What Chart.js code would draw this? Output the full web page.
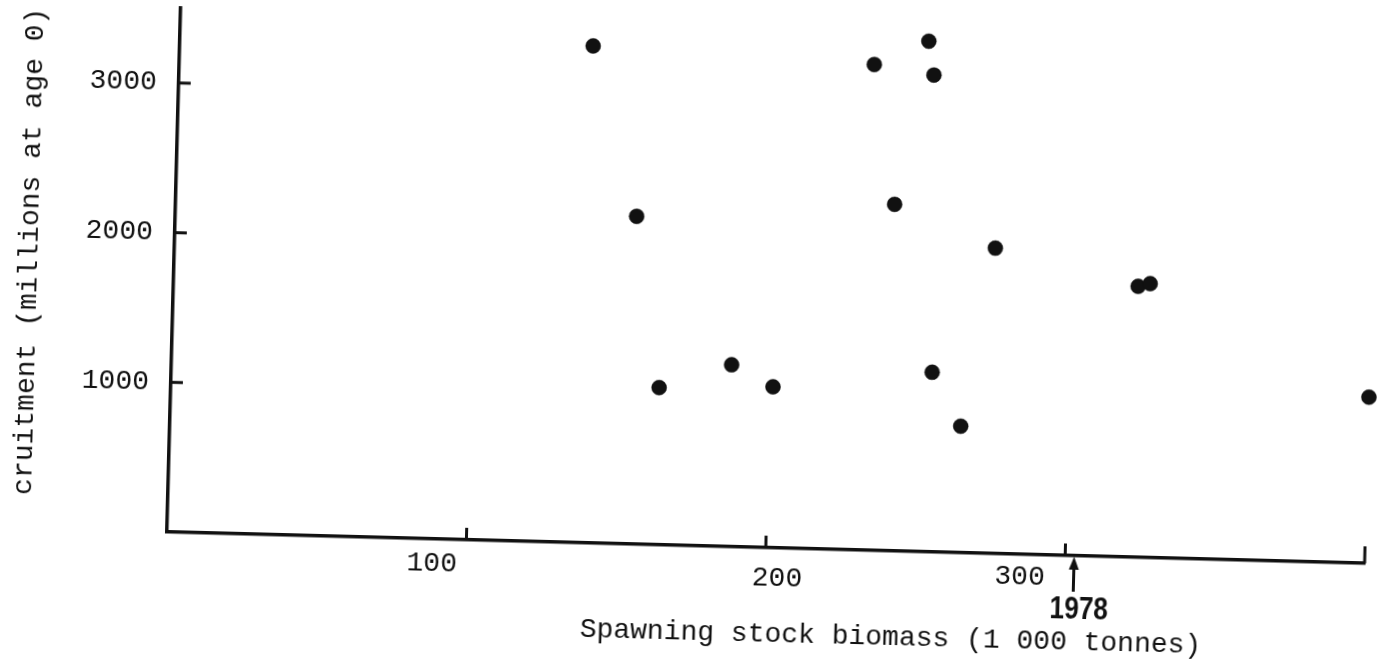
<!DOCTYPE html>
<html>
<head>
<meta charset="utf-8">
<script src="https://cdn.jsdelivr.net/npm/chart.js@4.4.1/dist/chart.umd.min.js"></script>
<style>
  html, body { margin: 0; padding: 0; background: #fff; overflow: hidden; }
  #wrap { width: 1383px; height: 664px; }
  /* the scanned figure sits slightly skewed on the page */
  canvas { transform: rotate(1.5deg); transform-origin: 168px 532px; }
</style>
</head>
<body>
<div id="wrap"><canvas id="stockChart" width="1383" height="664"></canvas></div>
<script>
// spawning stock biomass (1 000 t) and recruitment (millions at age 0)
var ssb      = [138, 154, 163, 187, 201, 232, 240, 250, 252, 254, 264, 274, 322, 326, 400];
var recruits = [3320, 2190, 1050, 1215, 1075, 3245, 2315, 3410, 3185, 1200, 845, 2040, 1810, 1830, 1110];

var xTicks = [100, 200, 300, 400];
var xTickLabels = ['100', '200', '300', ''];
var yTicks = [1000, 2000, 3000];

var markerSsb = 303;
var markerLabel = '1978';

var xTitle = 'Spawning stock biomass (1 000 tonnes)';
var yTitle = 'cruitment (millions at age 0)';

var mono = '"Liberation Mono", "DejaVu Sans Mono", monospace';
var ink = '#111';

var points = ssb.map(function(v, i) { return { x: v, y: recruits[i] }; });

// inward ticks, hand placed labels, the 1978 arrow and the titles
var handDrawn = {
  id: 'handDrawn',
  afterDraw: function(chart) {
    var c = chart.ctx, a = chart.chartArea;
    var xs = chart.scales.x, ys = chart.scales.y;
    c.save();
    c.strokeStyle = ink;
    c.fillStyle = ink;
    c.lineWidth = 3;

    yTicks.forEach(function(v) {
      var y = ys.getPixelForValue(v);
      c.beginPath(); c.moveTo(a.left, y); c.lineTo(a.left + 12, y); c.stroke();
    });
    xTicks.forEach(function(v, i) {
      var x = xs.getPixelForValue(v);
      var len = i === xTicks.length - 1 ? 17 : 12;
      c.beginPath(); c.moveTo(x, a.bottom); c.lineTo(x, a.bottom - len); c.stroke();
    });

    var dx = [-34, 12, -45], dy = [25, 31, 23];
    c.font = '28px ' + mono;
    c.textAlign = 'center';
    c.textBaseline = 'middle';
    xTickLabels.forEach(function(t, i) {
      if (!t) return;
      c.fillText(t, xs.getPixelForValue(xTicks[i]) + dx[i], a.bottom + dy[i]);
    });

    var ax = xs.getPixelForValue(markerSsb);
    c.beginPath(); c.moveTo(ax, a.bottom + 36); c.lineTo(ax, a.bottom + 10); c.stroke();
    c.beginPath();
    c.moveTo(ax, a.bottom + 1);
    c.lineTo(ax - 5, a.bottom + 14);
    c.lineTo(ax + 5, a.bottom + 14);
    c.closePath();
    c.fill();

    // condensed bold stamp for the year
    c.save();
    c.translate(ax + 6, a.bottom + 54);
    c.scale(0.82, 1);
    c.font = 'bold 32px "Liberation Sans", sans-serif';
    c.fillText(markerLabel, 0, 0);
    c.restore();

    c.font = '28px ' + mono;
    c.fillText(xTitle, a.left + 726, a.bottom + 87);

    c.translate(23, (a.top + a.bottom) / 2 - 15);
    c.rotate(-Math.PI / 2);
    c.fillText(yTitle, 0, 0);
    c.restore();
  }
};

function noEdgePadding(s) {
  s.paddingTop = 0;
  s.paddingBottom = 0;
  s.paddingLeft = 0;
  s.paddingRight = 0;
}

var chart = new Chart(document.getElementById('stockChart').getContext('2d'), {
  type: 'scatter',
  data: {
    datasets: [{
      data: points,
      backgroundColor: ink,
      borderColor: ink,
      pointRadius: 7.5,
      pointBorderWidth: 0.5,
      pointHoverRadius: 7.5,
      clip: false
    }]
  },
  options: {
    responsive: false,
    devicePixelRatio: 1,
    animation: false,
    layout: { padding: { top: 7, right: 18, left: 0, bottom: 0 } },
    plugins: {
      legend: { display: false },
      tooltip: { enabled: false }
    },
    scales: {
      x: {
        type: 'linear',
        position: 'bottom',
        min: 0,
        max: 400,
        afterBuildTicks: function(s) { s.ticks = xTicks.map(function(v) { return { value: v }; }); },
        afterFit: function(s) { s.height = 132; noEdgePadding(s); },
        grid: { display: false, drawTicks: false },
        border: { display: true, color: ink, width: 3.5 },
        ticks: { display: false }
      },
      y: {
        type: 'linear',
        position: 'left',
        min: 0,
        max: 3500,
        afterBuildTicks: function(s) { s.ticks = yTicks.map(function(v) { return { value: v }; }); },
        afterFit: function(s) { s.width = 167; noEdgePadding(s); },
        grid: { display: false, drawTicks: false },
        border: { display: true, color: ink, width: 3.5 },
        ticks: {
          padding: 22,
          color: ink,
          font: { family: mono, size: 28 },
          callback: function(v) { return String(v); }
        }
      }
    }
  },
  plugins: [handDrawn]
});
</script>
</body>
</html>
